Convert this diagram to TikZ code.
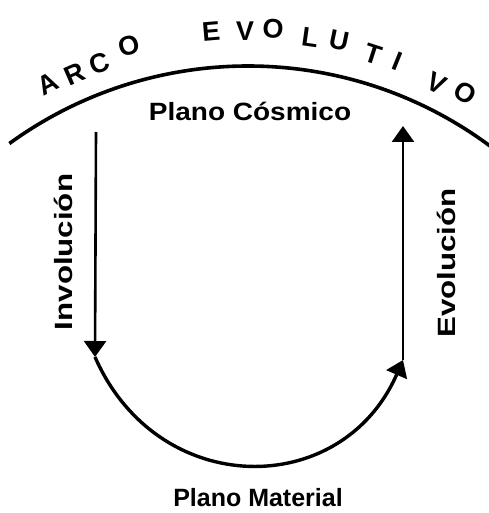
\documentclass[tikz,border=0pt]{standalone}
\usepackage{fontspec}
\setmainfont{Liberation Sans}
\usetikzlibrary{arrows.meta}
\begin{document}
\begin{tikzpicture}[x=1pt,y=1pt,
  lbl/.style={inner sep=0pt, font=\fontsize{25}{29}\selectfont\bfseries},
  arcl/.style={inner sep=0pt, font=\fontsize{27}{31}\selectfont\bfseries},
  tip/.style={-{Triangle[width=22pt,length=16pt]}},
  thin line/.style={line width=2.6pt},
  thick line/.style={line width=3.4pt},
]
\useasboundingbox (0,0) rectangle (488,-513);
\fill[white] (0,0) rectangle (488,-513);
% top arc
\coordinate (arcC) at (248,-472);
\draw[line width=3.6pt] ([shift={(126:406)}]arcC) arc[start angle=126, end angle=53, radius=406];
% ARCO EVOLUTIVO
\node[arcl, rotate=27.3]  (l1)  at (48,-84)  {A};
\node[arcl, rotate=23.5]  (l2)  at (75,-74)  {R};
\node[arcl, rotate=19.9]  (l3)  at (100,-63) {C};
\node[arcl, rotate=15.6]  (l4)  at (129,-46) {O};
\node[arcl, rotate=4.8]   (l5)  at (211,-31) {E};
\node[arcl, rotate=0.4]   (l6)  at (245,-31) {V};
\node[arcl, rotate=-3.1]  (l7)  at (273,-29) {O};
\node[arcl, rotate=-8.1]  (l8)  at (310,-37) {L};
\node[arcl, rotate=-11.7] (l9)  at (339,-41) {U};
\node[arcl, rotate=-18]   (l10) at (373,-54) {T};
\node[arcl, rotate=-22]   (l11) at (397,-61) {I};
\node[arcl, rotate=-27]   (l12) at (437,-83) {V};
\node[arcl, rotate=-31]   (l13) at (465,-93) {O};
% labels
\node[lbl, anchor=base] (cosmico) at (250,-121) {\scalebox{1.12}[1]{Plano Cósmico}};
\node[lbl, anchor=base] (material) at (258,-506) {Plano Material};
\node[lbl, anchor=base, rotate=90] (invol) at (72,-252) {\scalebox{1.25}[1]{Involución}};
\node[lbl, anchor=base, rotate=90] (evol) at (455,-263) {\scalebox{1.25}[1]{Evolución}};
% connectors
\coordinate (invTop) at (96,-132);
\coordinate (invBot) at (95,-357);
\coordinate (evoBot) at (403,-360);
\coordinate (evoTop) at (403,-126);
\draw[thin line, tip] (invTop) -- (invBot);
\draw[thick line, tip] (invBot) .. controls (158,-500) and (342,-500) .. (evoBot);
\draw[thin line, tip] (evoBot) -- (evoTop);
\end{tikzpicture}
\end{document}
